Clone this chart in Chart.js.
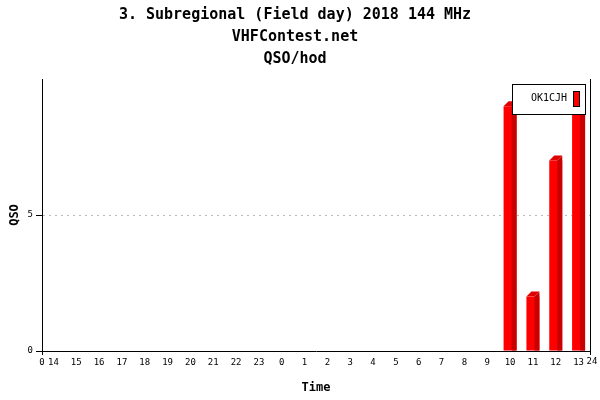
<!DOCTYPE html>
<html lang="en">
<head>
  <meta charset="UTF-8">
  <title>QSO/hod</title>
  <script src="https://cdn.jsdelivr.net/npm/chart.js"></script>
  <style>
    body { margin: 0; background: #fff; }
    #wrap { width: 600px; height: 400px; }
  </style>
</head>
<body>
  <div id="wrap"><canvas id="qsoChart" width="600" height="400"></canvas></div>

  <script>
    // Data
    var titleLines = ['3. Subregional (Field day) 2018 144 MHz', 'VHFContest.net', 'QSO/hod'];
    var hours = ['14', '15', '16', '17', '18', '19', '20', '21', '22', '23',
                 '0', '1', '2', '3', '4', '5', '6', '7', '8', '9', '10', '11', '12', '13'];
    var qso = [0, 0, 0, 0, 0, 0, 0, 0, 0, 0, 0, 0, 0, 0, 0, 0, 0, 0, 0, 0, 9, 2, 7, 9];
    var yTicks = [0, 5, 10];
    var axisEnds = ['0', '24'];
    var seriesName = 'OK1CJH';

    var MONO = '"DejaVu Sans Mono", "Liberation Mono", monospace';

    // 3D side + top of bars, end labels, right frame and legend box
    var decorPlugin = {
      id: 'decor',
      afterDatasetsDraw: function(chart) {
        var ctx = chart.ctx;
        var meta = chart.getDatasetMeta(0);
        var d = 5;
        ctx.save();
        meta.data.forEach(function(bar, i) {
          if (!qso[i]) return;
          var p = bar.getProps(['x', 'y', 'base', 'width'], true);
          var l = p.x - p.width / 2, r = p.x + p.width / 2;
          // dark right side (depth)
          ctx.fillStyle = '#c80000';
          ctx.beginPath();
          ctx.moveTo(r - d, p.base);
          ctx.lineTo(r - d, p.y);
          ctx.lineTo(r, p.y - d);
          ctx.lineTo(r, p.base);
          ctx.closePath();
          ctx.fill();
          // top cap
          ctx.fillStyle = '#e00000';
          ctx.beginPath();
          ctx.moveTo(l, p.y);
          ctx.lineTo(l + d, p.y - d);
          ctx.lineTo(r, p.y - d);
          ctx.lineTo(r - d, p.y);
          ctx.closePath();
          ctx.fill();
        });
        ctx.restore();
      },
      afterDraw: function(chart) {
        var ctx = chart.ctx;
        var a = chart.chartArea;
        ctx.save();
        // right frame line and end ticks
        ctx.strokeStyle = '#000';
        ctx.lineWidth = 1;
        ctx.beginPath();
        ctx.moveTo(a.right + 0.5, a.top);
        ctx.lineTo(a.right + 0.5, a.bottom + 4);
        ctx.moveTo(a.left + 0.5, a.bottom);
        ctx.lineTo(a.left + 0.5, a.bottom + 4);
        ctx.stroke();
        // end labels of the time axis
        ctx.fillStyle = '#000';
        ctx.font = '9px ' + MONO;
        ctx.textAlign = 'center';
        ctx.textBaseline = 'middle';
        ctx.fillText(axisEnds[0], a.left, a.bottom + 12);
        ctx.fillText(axisEnds[1], a.right + 2, a.bottom + 11);
        // legend box
        var lx = 512, ly = 84, lw = 73, lh = 30;
        ctx.fillStyle = '#fff';
        ctx.fillRect(lx, ly, lw, lh);
        ctx.strokeRect(lx + 0.5, ly + 0.5, lw, lh);
        ctx.fillStyle = '#000';
        ctx.font = '10px ' + MONO;
        ctx.textAlign = 'right';
        ctx.fillText(seriesName, lx + 55, ly + 14);
        ctx.fillStyle = '#ff0000';
        ctx.fillRect(lx + 61, ly + 7, 6, 15);
        ctx.strokeRect(lx + 61.5, ly + 7.5, 6, 15);
        ctx.restore();
      }
    };

    var ctx = document.getElementById('qsoChart').getContext('2d');
    new Chart(ctx, {
      type: 'bar',
      data: {
        labels: hours,
        datasets: [{
          label: seriesName,
          data: qso,
          backgroundColor: '#ff0000',
          borderWidth: 0,
          inflateAmount: 0,
          barThickness: 13
        }]
      },
      options: {
        responsive: false,
        animation: false,
        layout: { padding: { right: 10, top: 0, bottom: 0, left: 0 } },
        plugins: {
          legend: { display: false },
          tooltip: { enabled: false },
          title: {
            display: true,
            text: titleLines,
            color: '#000',
            font: { family: MONO, size: 15, weight: 'bold', lineHeight: 22 / 15 },
            padding: { top: 4, bottom: 9 }
          }
        },
        scales: {
          x: {
            grid: { display: false, drawTicks: false },
            border: { color: '#000', width: 1 },
            ticks: {
              autoSkip: false,
              maxRotation: 0,
              padding: 6,
              color: '#000',
              font: { family: MONO, size: 9 }
            },
            title: {
              display: true,
              text: 'Time',
              color: '#000',
              font: { family: MONO, size: 12, weight: 'bold' },
              padding: { top: 4, bottom: 5 }
            },
            afterFit: function(scale) {
              scale.height = 49;
              scale.paddingLeft = 0;
              scale.paddingRight = 0;
            }
          },
          y: {
            min: 0,
            max: 10,
            afterBuildTicks: function(scale) {
              scale.ticks = yTicks.map(function(v) { return { value: v }; });
            },
            grid: {
              color: function(c) { return c.tick && c.tick.value === 5 ? '#bbbbbb' : 'rgba(0,0,0,0)'; },
              tickColor: function(c) { return c.tick && c.tick.value === 10 ? 'rgba(0,0,0,0)' : '#000'; },
              tickLength: 6,
              tickBorderDash: []
            },
            border: { color: '#000', width: 1, dash: [2, 4] },
            ticks: {
              padding: 3,
              color: '#000',
              font: { family: MONO, size: 9 },
              callback: function(v) { return v === 10 ? '' : v; }
            },
            title: {
              display: true,
              text: 'QSO',
              color: '#000',
              font: { family: MONO, size: 12, weight: 'bold' },
              padding: { top: 8, bottom: 0 }
            },
            afterFit: function(scale) {
              scale.width = 42;
              scale.paddingTop = 0;
              scale.paddingBottom = 0;
            }
          }
        }
      },
      plugins: [decorPlugin]
    });
  </script>
</body>
</html>
